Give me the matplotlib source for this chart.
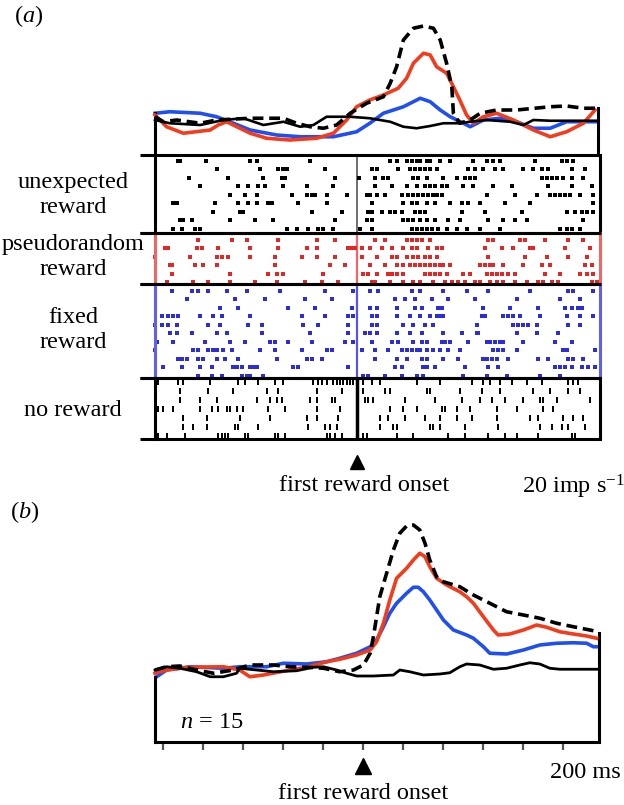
import matplotlib
matplotlib.use('Agg')
import matplotlib.pyplot as plt
import matplotlib.transforms as mtransforms

plt.rcParams['font.family'] = ['Liberation Serif', 'DejaVu Serif']
plt.rcParams['mathtext.fontset'] = 'custom'
plt.rcParams['mathtext.rm'] = 'Liberation Serif'
plt.rcParams['mathtext.it'] = 'Liberation Serif:italic'

# ---------------- DATA ----------------
# spike times (ms from first reward onset), one list per trial, top trial first
unexpected_trials = [
  [-447, -442, -377, -267, -251, -117, 83, 99, 124, 137, 149, 158, 174, 183, 208, 233, 291, 324, 341, 358, 445, 512, 524, 541],
  [-351, -242, -197, -184, -176, -80, 37, 49, 103, 133, 145, 158, 170, 183, 199, 278, 295, 316, 345, 366, 416, 441, 462, 478, 537, 570],
  [-419, -322, -234, -188, -180, -55, 6, 45, 66, 78, 141, 153, 174, 216, 249, 270, 283, 295, 462, 474, 487, 499, 516, 537, 566],
  [-392, -297, -272, -247, -230, -184, -126, -59, 45, 87, 124, 149, 170, 183, 195, 212, 224, 266, 291, 341, 387, 478, 537, 587],
  [-317, -280, -251, -163, -126, -113, -105, -76, -26, 24, 32, 49, 70, 112, 128, 141, 153, 166, 178, 191, 199, 212, 324, 395, 449, 483, 495, 508, 520, 533, 558, 591],
  [-459, -451, -355, -297, -272, -251, -222, -213, -147, -76, 37, 116, 137, 149, 174, 195, 233, 262, 278, 308, 370, 433, 591],
  [-359, -292, -284, -113, -38, 28, 37, 62, 83, 95, 112, 145, 158, 170, 262, 320, 412, 524, 545, 562, 574, 591],
  [-442, -434, -413, -317, -255, -209, -55, 24, 37, 116, 128, 141, 158, 174, 195, 228, 257, 328, 366, 395, 424, 566],
  [-459, -438, -405, -392, -176, -151, -122, -97, -84, -59, 7, 37, 137, 149, 162, 174, 187, 203, 224, 249, 274, 308, 358, 508, 524, 537, 558],
]
pseudorandom_trials = [
  [-397, -313, -276, -197, -101, -55, 45, 70, 124, 137, 149, 162, 183, 328, 341, 408, 420, 470, 528, 566],
  [-480, -472, -401, -388, -347, -267, -197, -126, -101, -22, -13, -5, 12, 32, 62, 87, 116, 137, 149, 178, 199, 212, 320, 362, 391, 433, 441, 520, 583],
  [-505, -418, -351, -338, -322, -267, -205, -138, -101, -55, 12, 49, 87, 99, 124, 141, 153, 170, 183, 199, 328, 420, 474, 528, 574],
  [-468, -463, -405, -384, -351, -205, -67, -30, 32, 70, 99, 116, 133, 145, 158, 170, 183, 195, 208, 216, 233, 308, 320, 333, 341, 366, 416, 462, 483, 570, 587],
  [-463, -317, -222, -201, -184, -84, 16, 28, 49, 78, 87, 99, 116, 170, 183, 195, 208, 224, 266, 283, 324, 337, 349, 362, 378, 395, 470, 508, 558, 574, 591],
  [-476, -409, -372, -317, -255, -201, -130, -88, -47, 37, 45, 83, 116, 141, 158, 191, 220, 237, 253, 270, 295, 308, 333, 349, 366, 395, 424, 453, 466, 487, 503, 587, 600],
]
fixed_trials = [
  [-463, -413, -397, -372, -326, -276, -192, -80, -9, 32, 53, 137, 158, 216, 274, 328, 433, 528, 541, 591],
  [-426, -305, -230, -130, -63, 95, 120, 145, 187, 228, 295, 399, 508, 558],
  [-342, -297, -172, -105, -13, 32, 49, 99, 145, 162, 203, 212, 316, 383, 453, 520, 537, 553, 562],
  [-488, -472, -459, -447, -392, -359, -338, -267, -138, -80, -22, -9, 37, 49, 99, 133, 158, 183, 199, 208, 216, 312, 320, 366, 378, 391, 408, 458, 524, 558, 591],
  [-505, -488, -472, -451, -372, -342, -272, -238, -134, -97, -22, 37, 49, 116, 141, 170, 191, 299, 391, 403, 416, 428, 449, 528, 558],
  [-468, -451, -413, -351, -326, -238, -117, -22, 20, 32, 49, 99, 133, 162, 216, 262, 299, 303, 399, 449, 503],
  [-501, -459, -380, -317, -280, -217, -205, -172, -113, -30, -9, 37, 87, 103, 141, 162, 174, 212, 220, 233, 278, 324, 333, 345, 358, 366, 416, 495, 537],
  [-505, -409, -397, -372, -359, -351, -334, -313, -242, -205, -138, -76, -63, 12, 45, 78, 112, 124, 137, 149, 158, 174, 191, 208, 228, 257, 341, 353, 366, 399, 516, 524, 595],
  [-447, -438, -426, -397, -384, -351, -330, -297, -201, -126, -113, -88, 45, 99, 124, 162, 174, 216, 253, 316, 324, 337, 349, 378, 453, 478, 528, 541, 566],
  [-484, -438, -392, -363, -309, -299, -288, -267, -259, -251, -159, -147, -22, 95, 112, 166, 174, 195, 270, 328, 353, 495, 508, 520, 537, 562, 578, 595],
  [-397, -363, -338, -288, -276, -267, -234, 16, 28, 70, 112, 149, 166, 266, 324, 374, 458, 508],
]
noreward_trials = [
  [-497, -447, -434, -367, -297, -280, -247, -205, -184, -109, -97, -88, -76, -59, -51, -42, -34, -26, -17, -9, 16, 37, 58, 149, 208, 287, 316, 333, 358, 387, 424, 462, 528, 541, 553],
  [-442, -372, -309, -226, -197, -101, -38, 16, 70, 83, 174, 183, 257, 312, 358, 441, 483, 528, 558],
  [-442, -392, -351, -251, -217, -201, -188, -117, -101, -63, -55, 20, 28, 41, 120, 195, 262, 308, 337, 370, 416, 458, 466, 499, 583],
  [-497, -484, -459, -392, -363, -347, -326, -317, -301, -284, -222, -180, -101, -42, 83, 116, 149, 212, 220, 249, 283, 349, 399, 466, 491],
  [-434, -376, -292, -217, -126, -101, -47, 58, 78, 120, 170, 208, 249, 287, 349, 433, 453, 516, 541, 566],
  [-434, -409, -376, -305, -297, -247, -122, -80, -67, -51, 58, 91, 99, 183, 191, 208, 270, 353, 458, 487, 512, 528, 570],
  [-497, -476, -430, -347, -338, -330, -322, -280, -272, -205, -197, -180, -76, -67, -55, -38, 16, 24, 99, 141, 228, 270, 328, 370, 399, 453, 537, 545],
]

# panel (a) single neuron histograms: time (ms), rate
a_red_t = [-505, -476, -434, -367, -347, -326, -267, -226, -168, -101, -59, -26, -1, 32, 66, 103, 124, 141, 166, 183, 199, 224, 241, 257, 274, 291, 316, 349, 391, 441, 483, 524, 566, 595]
a_red_r = [16.0, 11.3, 8.7, 10.0, 12.0, 13.3, 8.7, 6.7, 6.0, 6.7, 8.7, 14.0, 19.3, 22.0, 24.0, 26.7, 30.7, 36.7, 40.7, 40.0, 35.3, 32.7, 27.3, 22.0, 16.0, 12.7, 15.3, 16.7, 14.0, 10.0, 7.3, 9.3, 12.7, 18.0]
a_blue_t = [-505, -468, -392, -351, -309, -267, -201, -142, -59, -1, 32, 66, 116, 158, 183, 208, 233, 266, 283, 316, 358, 399, 441, 483, 524, 603]
a_blue_r = [16.7, 17.3, 16.7, 15.3, 12.7, 10.0, 8.0, 7.3, 7.3, 9.3, 12.7, 16.7, 19.3, 22.7, 21.3, 18.0, 15.3, 12.7, 11.3, 14.0, 14.7, 13.3, 10.7, 10.7, 13.3, 13.3]
a_dash_t = [-505, -484, -451, -392, -351, -267, -184, -151, -117, -84, -51, -17, 24, 66, 83, 99, 116, 141, 166, 191, 208, 224, 237, 241, 257, 283, 308, 349, 399, 483, 524, 566, 600]
a_dash_r = [15.3, 13.3, 14.0, 12.7, 14.0, 14.7, 14.7, 12.7, 11.3, 10.7, 12.0, 16.7, 20.7, 23.3, 28.7, 35.3, 46.0, 50.7, 51.6, 50.7, 46.0, 36.7, 27.3, 16.7, 12.7, 14.0, 16.7, 18.0, 18.0, 19.3, 19.6, 18.7, 18.7]
a_none_t = [-505, -468, -392, -334, -284, -234, -184, -142, -109, -76, -17, 32, 83, 116, 149, 183, 216, 257, 283, 324, 383, 416, 441, 483, 603]
a_none_r = [14.0, 12.7, 12.0, 14.0, 14.7, 12.0, 13.3, 11.3, 12.0, 15.3, 15.3, 14.7, 13.3, 11.3, 10.7, 11.6, 12.7, 12.7, 13.3, 14.0, 13.3, 12.0, 14.0, 13.7, 13.7]

# panel (b) population histograms (n = 15)
b_dash_t = [-520, -491, -458, -416, -374, -324, -283, -224, -183, -141, -99, -58, -24, 1, 18, 26, 34, 42, 59, 76, 92, 109, 126, 142, 155, 167, 184, 201, 242, 276, 317, 359, 401, 442, 484, 526, 567, 588]
b_dash_r = [28.8, 30.1, 30.4, 28.8, 27.5, 28.8, 30.8, 30.8, 30.1, 29.9, 29.5, 28.1, 28.8, 30.8, 35.5, 42.1, 50.1, 58.1, 67.5, 76.8, 83.5, 86.4, 86.8, 84.8, 79.5, 72.8, 66.1, 64.1, 62.1, 58.8, 55.5, 52.1, 50.8, 49.5, 47.5, 46.1, 44.8, 44.1]
b_red_t = [-520, -491, -433, -349, -308, -283, -249, -183, -141, -91, -58, -16, 18, 34, 51, 67, 84, 109, 126, 142, 155, 167, 184, 209, 242, 259, 276, 301, 326, 338, 367, 401, 434, 459, 492, 526, 559, 584]
b_red_r = [27.5, 28.8, 29.9, 30.1, 28.8, 26.1, 26.8, 28.8, 29.9, 32.1, 33.1, 34.8, 36.8, 40.1, 47.5, 56.8, 65.5, 69.5, 72.8, 75.5, 74.1, 70.1, 65.5, 62.8, 60.1, 58.1, 55.5, 50.1, 44.8, 42.8, 43.2, 44.8, 46.8, 45.9, 44.1, 43.2, 42.4, 41.5]
b_blue_t = [-516, -491, -433, -349, -308, -241, -199, -141, -91, -58, -16, 18, 34, 51, 67, 84, 109, 126, 138, 151, 167, 184, 201, 226, 259, 276, 301, 317, 359, 401, 442, 484, 526, 559, 576, 588]
b_blue_r = [26.1, 28.8, 30.1, 29.5, 30.1, 30.1, 31.5, 31.2, 32.1, 33.5, 35.5, 38.1, 40.8, 46.1, 51.5, 55.5, 59.5, 61.9, 61.9, 60.1, 56.8, 52.8, 48.8, 44.8, 42.8, 41.5, 38.1, 35.5, 35.2, 36.8, 38.8, 39.5, 39.7, 39.5, 38.1, 38.1]
b_none_t = [-520, -491, -458, -416, -382, -349, -316, -308, -266, -224, -166, -124, -99, -66, -41, -16, 26, 76, 92, 117, 151, 192, 217, 242, 259, 292, 326, 359, 392, 417, 442, 467, 492, 588]
b_none_r = [28.8, 30.1, 29.5, 28.1, 26.1, 26.1, 27.5, 29.5, 28.8, 28.1, 28.5, 29.9, 30.1, 28.8, 27.5, 26.4, 26.4, 26.8, 28.8, 28.1, 26.8, 27.2, 27.7, 30.1, 31.2, 30.8, 29.1, 29.5, 30.8, 31.7, 31.2, 29.5, 29.1, 29.1]

b_ticks = [-500, -400, -300, -200, -100, 0, 100, 200, 300, 400, 500]

raster_labels = ['unexpected\nreward', 'pseudorandom\nreward', 'fixed\nreward', 'no reward']

# ---------------- STYLE ----------------
RED = '#f23c1c'
BLUE = '#1f4ff0'
RED_DOT = '#e62525'
BLUE_DOT = '#2b2be0'
FS = 17.5
LW = 2.6
W, H = 624, 805

fig = plt.figure(figsize=(W / 100, H / 100), dpi=100)
fig.patch.set_facecolor('white')


def px_axes(x0, y0, x1, y1):
  ax = fig.add_axes([x0 / W, 1 - y1 / H, (x1 - x0) / W, (y1 - y0) / H])
  ax.patch.set_alpha(0)
  return ax


def ftext(x, y, s, **kw):
  fig.text(x / W, 1 - y / H, s, fontsize=FS, **kw)


# ---------------- PANEL A: HISTOGRAM ----------------
axa = px_axes(155, 20, 600, 155)
axa.set_xlim(-505, 607.5)
axa.set_ylim(0, 54)
axa.axis('off')
axa.plot(a_blue_t, a_blue_r, color=BLUE, lw=LW, zorder=2, clip_on=False, solid_joinstyle='round')
axa.plot(a_red_t, a_red_r, color=RED, lw=LW, zorder=3, clip_on=False, solid_joinstyle='round')
axa.plot(a_none_t, a_none_r, color='black', lw=1.9, zorder=4, clip_on=False)
axa.plot(a_dash_t, a_dash_r, color='black', lw=LW, dashes=(3.0, 1.6), zorder=5, clip_on=False)
axa.plot([-505, -505], [0, 16.8], color='black', lw=2.2, clip_on=False)
axa.plot([602, 602], [0, 18.8], color='black', lw=2.2, clip_on=False)

# ---------------- PANEL A: RASTERS ----------------
# (pixel box top, bottom, first row, row step)
boxes = [(155, 233, 160.7, 8.5), (233, 284.5, 240, 8.45), (284.5, 378, 290.7, 8.53), (378, 439, 382.3, 8.9)]
trials = [unexpected_trials, pseudorandom_trials, fixed_trials, noreward_trials]
dot_colors = ['black', RED_DOT, BLUE_DOT, 'black']
side_colors = ['black', '#f06565', '#6060f0', 'black']
onset_colors = ['#555555', '#f06565', '#5555ee', 'black']
onset_widths = [1.2, 1.6, 1.6, 2.5]
label_y = [195, 257, 330, 410]

raster_axes = []
for k, (top, bot, y0, step) in enumerate(boxes):
  ax = px_axes(155, top, 600, bot)
  ax.set_xlim(-505, 607.5)
  ax.set_ylim((bot - y0) / step, -(y0 - top) / step)
  ax.axis('off')
  for i, row in enumerate(trials[k]):
    if k == 3:
      ax.plot(row, [i] * len(row), ls='none', marker='|', ms=4.0, mew=1.4, color='black', clip_on=False)
    else:
      ax.plot(row, [i] * len(row), ls='none', marker='s', ms=2.8, mew=0, color=dot_colors[k], clip_on=False)
  ax.axvline(0, color=onset_colors[k], lw=onset_widths[k], zorder=1)
  ax.plot([0, 0], [0, 1], transform=ax.transAxes, color=side_colors[k], lw=2.2, clip_on=False)
  ax.plot([1, 1], [0, 1], transform=ax.transAxes, color=side_colors[k], lw=2.2, clip_on=False)
  ax.plot([-15 / 445, 1.003], [1, 1], transform=ax.transAxes, color='black', lw=2.2, clip_on=False, solid_capstyle='butt')
  ax.plot([-15 / 445, 1.003], [0, 0], transform=ax.transAxes, color='black', lw=2.2, clip_on=False, solid_capstyle='butt')
  ftext(73, label_y[k], raster_labels[k], ha='center', va='center', linespacing=1.2)
  raster_axes.append(ax)

# onset marker + labels (a)
trans_a = mtransforms.blended_transform_factory(raster_axes[-1].transData, fig.transFigure)
raster_axes[-1].plot([0], [1 - 462 / H], marker='^', ms=10, color='black', transform=trans_a, clip_on=False)
ftext(364, 485, 'first reward onset', ha='center', va='center')
ftext(522, 487, r'20 imp s$^{-1}$', ha='left', va='center')
ftext(29, 16, r'$(a)$', ha='center', va='center')

# ---------------- PANEL B ----------------
axb = px_axes(155, 510, 600, 742)
axb.set_xlim(-520, 592.5)
axb.set_ylim(0, 92.8)
for s in axb.spines.values():
  s.set_visible(False)
axb.set_yticks([])
axb.set_xticks(b_ticks)
axb.set_xticklabels([])
axb.tick_params(axis='x', direction='out', length=6, width=1.6, color='#555555')
axb.plot(b_blue_t, b_blue_r, color=BLUE, lw=LW, zorder=2, clip_on=False, solid_joinstyle='round')
axb.plot(b_red_t, b_red_r, color=RED, lw=LW, zorder=3, clip_on=False, solid_joinstyle='round')
axb.plot(b_none_t, b_none_r, color='black', lw=2.0, zorder=4, clip_on=False)
axb.plot(b_dash_t, b_dash_r, color='black', lw=LW, dashes=(3.0, 1.6), zorder=5, clip_on=False)
axb.plot([-520, -520], [0, 26], color='black', lw=2.2, clip_on=False)
axb.plot([590, 590], [0, 43.6], color='black', lw=2.2, clip_on=False)
axb.plot([-520, 590], [0, 0], color='black', lw=2.2, clip_on=False)

trans_b = mtransforms.blended_transform_factory(axb.transData, fig.transFigure)
axb.plot([0], [1 - 766 / H], marker='^', ms=11, color='black', transform=trans_b, clip_on=False)
ftext(363, 793, 'first reward onset', ha='center', va='center')
ftext(550, 772, '200 ms', ha='left', va='center')
ftext(180, 722, r'$n\,=\,15$', ha='left', va='center')
ftext(25, 512, r'$(b)$', ha='center', va='center')

plt.savefig('out.png', dpi=100)
